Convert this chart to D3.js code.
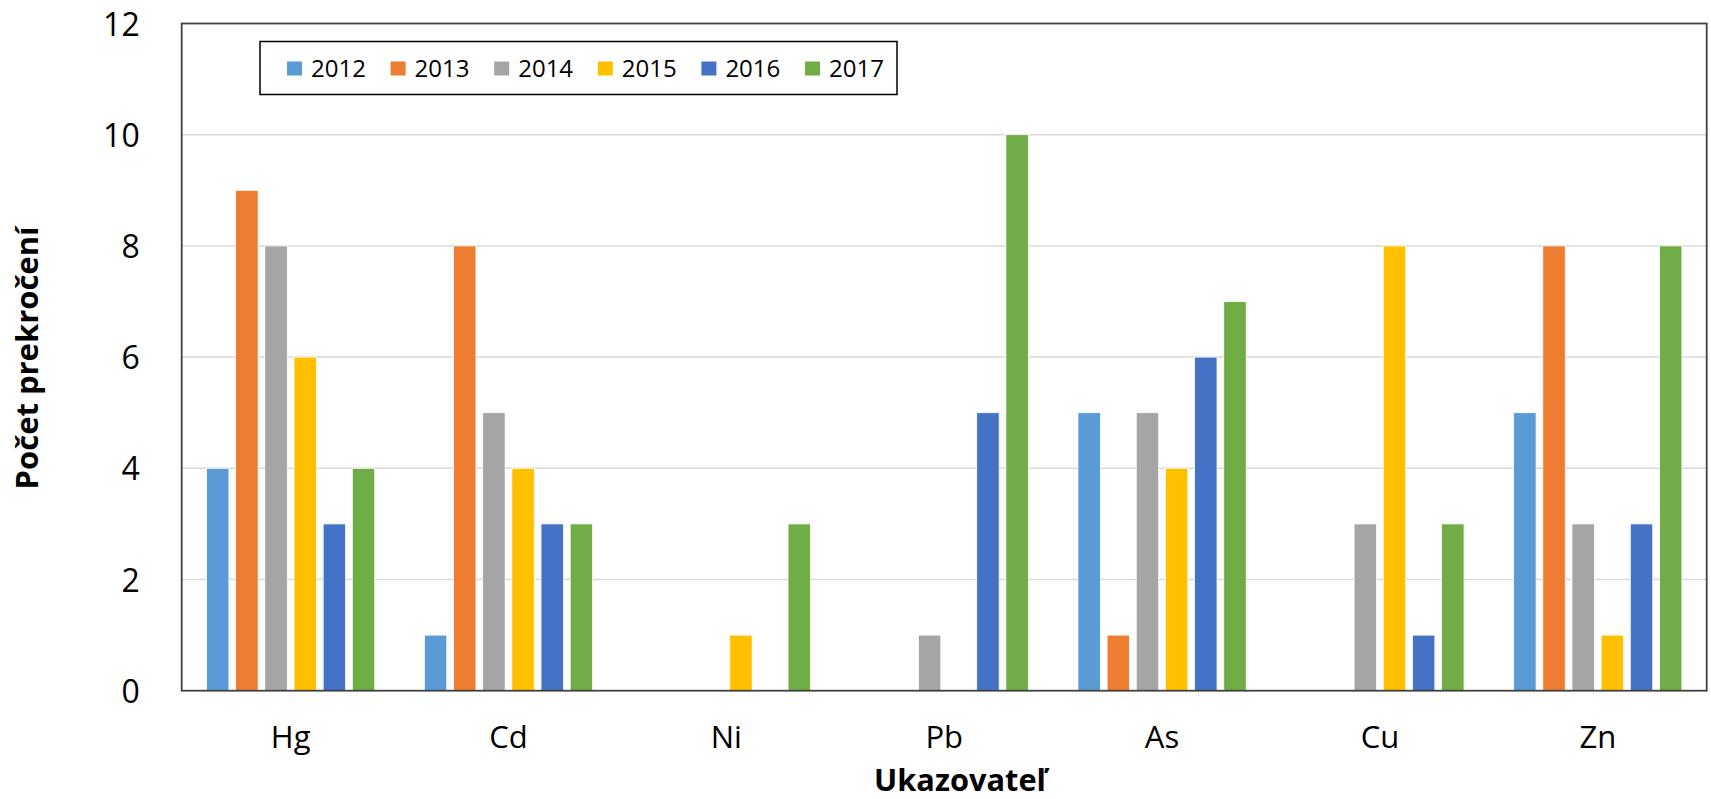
<!DOCTYPE html>
<html>
<head>
<meta charset="utf-8">
<script src="https://cdn.jsdelivr.net/npm/d3@7"></script>
<style>
  html, body { margin: 0; padding: 0; background: #fff; }
  svg { display: block; }
  text { font-family: "Open Sans", "Noto Sans", sans-serif; fill: #000; }
</style>
</head>
<body>
<svg id="chart" width="1711" height="799"></svg>
<script>
// ---- data ----
const categories = ["Hg", "Cd", "Ni", "Pb", "As", "Cu", "Zn"];
const years = ["2012", "2013", "2014", "2015", "2016", "2017"];
const v2012 = [4, 1, 0, 0, 5, 0, 5];
const v2013 = [9, 8, 0, 0, 1, 0, 8];
const v2014 = [8, 5, 0, 1, 5, 3, 3];
const v2015 = [6, 4, 1, 0, 4, 8, 1];
const v2016 = [3, 3, 0, 5, 6, 1, 3];
const v2017 = [4, 3, 3, 10, 7, 3, 8];
const yTicks = [0, 2, 4, 6, 8, 10, 12];
const colors = ["#5B9BD5", "#ED7D31", "#A5A5A5", "#FFC000", "#4472C4", "#70AD47"];
const xTitle = "Ukazovateľ";
const yTitle = "Počet prekročení";

const series = [v2012, v2013, v2014, v2015, v2016, v2017];

// ---- layout ----
const plot = { left: 181.7, right: 1706.7, top: 23.5, bottom: 690.7 };
const svg = d3.select("#chart");

const x0 = d3.scaleBand().domain(categories).range([plot.left, plot.right]).padding(0);
const x1 = d3.scaleBand().domain(years).range([0, x0.bandwidth()])
  .paddingInner(0.23).paddingOuter(0.85);
const y = d3.scaleLinear().domain([0, 12]).range([plot.bottom, plot.top]);

// gridlines
svg.append("g").selectAll("line").data(yTicks.filter(t => t > 0 && t < 12)).join("line")
  .attr("x1", plot.left).attr("x2", plot.right)
  .attr("y1", d => y(d)).attr("y2", d => y(d))
  .attr("stroke", "#D9D9D9").attr("stroke-width", 1.5);

// bars
const groups = svg.append("g").selectAll("g").data(categories).join("g")
  .attr("transform", d => `translate(${x0(d)},0)`);
groups.selectAll("rect")
  .data((c, i) => years.map((yr, j) => ({ yr, j, v: series[j][i] })))
  .join("rect")
  .attr("x", d => x1(d.yr))
  .attr("width", x1.bandwidth())
  .attr("y", d => y(d.v))
  .attr("height", d => y(0) - y(d.v))
  .attr("fill", d => colors[d.j])
  .attr("stroke", "#fff").attr("stroke-width", 0.8);

// frame
svg.append("rect")
  .attr("x", plot.left).attr("y", plot.top)
  .attr("width", plot.right - plot.left).attr("height", plot.bottom - plot.top)
  .attr("fill", "none").attr("stroke", "#404040").attr("stroke-width", 1.8);

// y axis
const yAxis = d3.axisLeft(y).tickValues(yTicks).tickSize(0).tickPadding(42);
const gy = svg.append("g").attr("transform", `translate(${plot.left},0)`).call(yAxis);
gy.select(".domain").remove();
gy.selectAll("text").style("font-size", "32px").style("font-family", '"Open Sans", sans-serif')
  .attr("fill", "#000").attr("dy", "0.36em");

// x axis
const xAxis = d3.axisBottom(x0).tickSize(0).tickPadding(35);
const gx = svg.append("g").attr("transform", `translate(0,${plot.bottom})`).call(xAxis);
gx.select(".domain").remove();
gx.selectAll("text").style("font-size", "31px").style("font-family", '"Open Sans", sans-serif')
  .attr("fill", "#000");

// titles (fit width to reference)
function fitText(sel, target) {
  const len = sel.node().getComputedTextLength();
  const fs = parseFloat(sel.style("font-size"));
  sel.style("font-size", (fs * target / len) + "px");
}
const xt = svg.append("text").attr("x", 960).attr("y", 791)
  .attr("text-anchor", "middle").style("font-weight", "bold").style("font-size", "30px")
  .text(xTitle);
fitText(xt, 172);

const yt = svg.append("text")
  .attr("transform", `translate(38,358) rotate(-90)`)
  .attr("text-anchor", "middle").style("font-weight", "bold").style("font-size", "30px")
  .text(yTitle);
fitText(yt, 263);

// legend
const legend = svg.append("g");
legend.append("rect").attr("x", 260).attr("y", 41.5).attr("width", 637).attr("height", 53)
  .attr("fill", "#fff").attr("stroke", "#000").attr("stroke-width", 1.5);
const legX = d3.scalePoint().domain(years).range([287, 805]);
const li = legend.selectAll("g.item").data(years).join("g").attr("class", "item")
  .attr("transform", d => `translate(${legX(d)},0)`);
li.append("rect").attr("x", 0).attr("y", 61.5).attr("width", 15).attr("height", 14)
  .attr("fill", (d, i) => colors[i]);
li.append("text").attr("x", 24).attr("y", 76.5).style("font-size", "24px").text(d => d);
</script>
</body>
</html>
